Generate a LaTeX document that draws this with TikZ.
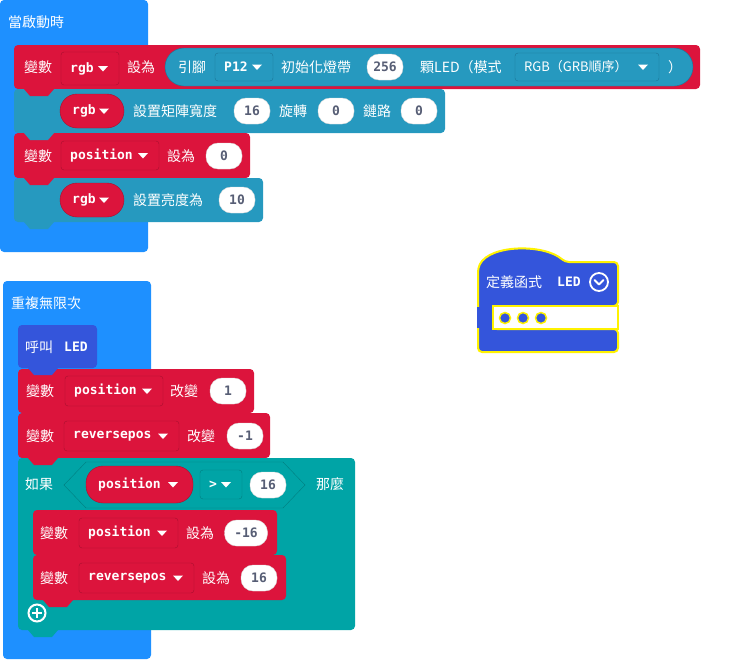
\documentclass[tikz,border=0pt]{standalone}
\usepackage{fontspec}
\newfontfamily\cjkf{Noto Sans CJK TC}
\newfontfamily\monof{DejaVu Sans Mono}
\definecolor{cblue}{HTML}{1E90FF}
\definecolor{cred}{HTML}{DC143C}
\definecolor{credd}{HTML}{A80F2E}
\definecolor{cnp}{HTML}{2699BF}
\definecolor{cnpd}{HTML}{1B7496}
\definecolor{cif}{HTML}{00A4A6}
\definecolor{cifd}{HTML}{007F81}
\definecolor{cfn}{HTML}{3455DB}
\definecolor{cyel}{HTML}{FFF200}
\definecolor{cval}{HTML}{575E75}
\tikzset{
 lbl/.style={font=\cjkf\fontsize{14}{16}\selectfont, text=white, anchor=west, inner sep=0},
 mono/.style={font=\monof\bfseries\fontsize{13}{15}\selectfont, text=white, anchor=west, inner sep=0},
 oval/.style={draw=black!15, fill=white, rounded corners=12, minimum height=26, inner sep=0, font=\monof\bfseries\fontsize{13}{15}\selectfont, text=cval},
 blk/.style={rounded corners=4},
}
\newcommand{\tri}[2]{\fill[white] ({#1-5},{#2-2.5}) -- ({#1+5},{#2-2.5}) -- ({#1},{#2+3}) -- cycle;}
% dropdown: x1 y1 x2 y2 text fill border name
\newcommand{\dd}[8]{\draw[#7,fill=#6,rounded corners=3] (#1,#2) rectangle (#3,#4);
 \node[mono] (#8) at ({#1+9},{(#2+#4)/2}) {#5};
 \tri{#3-16}{(#2+#4)/2}}
% red pill dropdown
\newcommand{\pill}[6]{\draw[credd,fill=cred,rounded corners=17] (#1,#2) rectangle (#3,#4);
 \node[mono] (#6) at ({#1+12},{(#2+#4)/2}) {#5};
 \tri{#3-20}{(#2+#4)/2}}
\newcommand{\tab}[3]{\fill[#3] ({#1+10},#2) -- ({#1+16},{#2+7}) -- ({#1+34},{#2+7}) -- ({#1+40},#2) -- cycle;}
\begin{document}
\begin{tikzpicture}[x=1pt,y=-1pt]
\useasboundingbox (0,0) rectangle (750,659);
% on start
\fill[cblue,blk] (0,0) rectangle (148,252);
\node[lbl] (start) at (8,22) {當啟動時};
% block 1
\fill[cred,blk] (14,45) rectangle (700,89);
\node[lbl] (v1) at (24,67) {變數};
\dd{61}{52}{119}{85}{rgb}{cred}{credd}{d1}
\node[lbl] (s1) at (127,67) {設為};
\draw[cnpd,fill=cnp,rounded corners=19] (165,48) rectangle (693,86);
\node[lbl] (pin) at (178,67) {引腳};
\dd{215}{53}{273}{81}{P12}{cnp}{cnpd}{d2}
\node[lbl] (init) at (281,67) {初始化燈帶};
\node[oval,minimum width=36] (o256) at (385,67) {256};
\node[lbl] (led) at (420,67) {顆LED（模式};
\dd{515}{53}{659}{81}{\cjkf\mdseries RGB（GRB順序）}{cnp}{cnpd}{d3}
\node[lbl] (cp) at (668,67) {）};
% block 2
\fill[cnp,blk] (14,89) rectangle (445,133);
\pill{60}{94}{124}{128}{rgb}{p1}
\node[lbl] (mw) at (133,111) {設置矩陣寬度};
\node[oval,minimum width=36] (o16) at (252,111) {16};
\node[lbl] (rot) at (279,111) {旋轉};
\node[oval,minimum width=36] (o0a) at (336,111) {0};
\node[lbl] (chain) at (363,111) {鏈路};
\node[oval,minimum width=36] (o0b) at (419,111) {0};
% block 3
\fill[cred,blk] (14,133) rectangle (250,178);
\node[lbl] (v3) at (24,156) {變數};
\dd{61}{141}{159}{170}{position}{cred}{credd}{d4}
\node[lbl] (s3) at (167,156) {設為};
\node[oval,minimum width=36] (o0c) at (224,156) {0};
% block 4
\fill[cnp,blk] (14,178) rectangle (263,222);
\pill{60}{183}{124}{217}{rgb}{p2}
\node[lbl] (br) at (133,200) {設置亮度為};
\node[oval,minimum width=36] (o10) at (237,200) {10};
\tab{14}{89}{cred}\tab{14}{133}{cnp}\tab{14}{178}{cred}\tab{14}{222}{cnp}
% forever
\fill[cblue,blk] (3,281) rectangle (151,659);
\node[lbl] (fe) at (11,303) {重複無限次};
\fill[cfn,blk] (18,325) rectangle (97,368);
\node[lbl] (call) at (25,347) {呼叫};
\node[mono] (callt) at (64,347) {LED};
\fill[cred,blk] (18,369) rectangle (254,413);
\node[lbl] (v5) at (26,391) {變數};
\dd{65}{376}{163}{406}{position}{cred}{credd}{d5}
\node[lbl] (c5) at (170,391) {改變};
\node[oval,minimum width=36] (o1) at (228,391) {1};
\fill[cred,blk] (18,413) rectangle (270,458);
\node[lbl] (v6) at (26,436) {變數};
\dd{64}{421}{179}{451}{reversepos}{cred}{credd}{d6}
\node[lbl] (c6) at (187,436) {改變};
\node[oval,minimum width=36] (om1) at (245,436) {-1};
% if block
\fill[cif,blk] (18,458) rectangle (355,630);
\node[lbl] (if) at (25,484) {如果};
\draw[cifd,fill=cif] (64,485) -- (86,462) -- (283,462) -- (305,485) -- (283,508) -- (86,508) -- cycle;
\pill{86}{466}{193}{503}{position}{p3}
\dd{200}{470}{242}{499}{>}{cif}{cifd}{d7}
\node[oval,minimum width=36] (o16b) at (268,485) {16};
\node[lbl] (then) at (316,484) {那麼};
\fill[cred,blk] (33,510) rectangle (277,555);
\node[lbl] (v7) at (40,533) {變數};
\dd{79}{518}{178}{548}{position}{cred}{credd}{d8}
\node[lbl] (s7) at (186,533) {設為};
\node[oval,minimum width=43] (om16) at (246,533) {-16};
\fill[cred,blk] (33,555) rectangle (286,600);
\node[lbl] (v8) at (40,578) {變數};
\dd{79}{563}{194}{593}{reversepos}{cred}{credd}{d9}
\node[lbl] (s8) at (202,578) {設為};
\node[oval,minimum width=36] (o16c) at (259,578) {16};
\tab{18}{368}{cfn}\tab{18}{413}{cred}\tab{18}{458}{cred}\tab{33}{555}{cred}\tab{33}{600}{cred}\tab{18}{630}{cif}
\draw[white,line width=2] (37,613) circle (8.5);
\draw[white,line width=2.5] (32,613) -- (42,613) (37,608) -- (37,618);
% define function
\draw[cyel,line width=2,fill=cfn,rounded corners=4] (478,352) -- (478,268) .. controls (490,244) and (545,244) .. (565,262) -- (618,262) -- (618,306) -- (493,306) -- (493,329) -- (618,329) -- (618,352) -- cycle;
\draw[cyel,line width=2,fill=white] (493,306) rectangle (618,329);
\fill[cfn] (477,307) rectangle (492,328);
\node[lbl] (def) at (486,282) {定義函式};
\node[mono] (deft) at (557,282) {LED};
\draw[white,line width=1.8] (599,282) circle (9);
\draw[white,line width=2,line cap=round,line join=round] (594.5,280) -- (599,284.5) -- (603.5,280);
\foreach \i/\xx in {a/505,b/523,c/541}{\node[circle,draw=cyel,line width=1.5,fill=cfn,minimum size=11,inner sep=0] (dot\i) at (\xx,318) {};}
\end{tikzpicture}
\end{document}
